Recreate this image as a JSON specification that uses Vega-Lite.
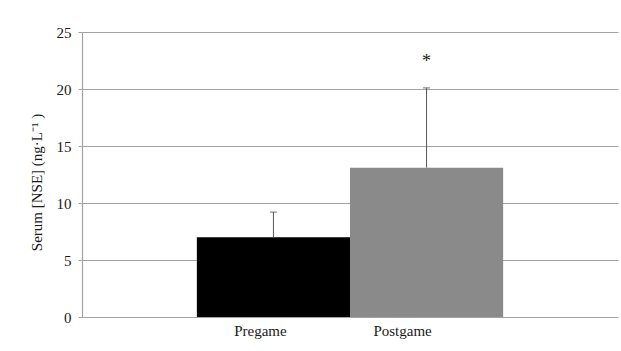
{
  "$schema": "https://vega.github.io/schema/vega-lite/v6.json",
  "autosize": "none",
  "padding": {"left": 82, "top": 32, "right": 3, "bottom": 34},
  "width": 536,
  "height": 285,
  "data": {"values": [
    {"phase": "Pregame", "mean": 7.0, "hi": 9.2, "sig": ""},
    {"phase": "Postgame", "mean": 13.1, "hi": 20.1, "sig": "*"}
  ]},
  "encoding": {
    "x": {"field": "phase", "type": "nominal", "sort": null,
      "scale": {"paddingInner": 0, "paddingOuter": 0.75},
      "axis": {"title": null, "labelAngle": 0, "ticks": false, "domain": false, "labelPadding": 6,
        "labelOffset": {"condition": {"test": "datum.value === 'Pregame'", "value": -13}, "value": -24},
        "labelFont": "Liberation Serif", "labelFontSize": 15, "labelColor": "#1a1a1a"}}
  },
  "layer": [
    {
      "mark": {"type": "bar"},
      "encoding": {
        "y": {"field": "mean", "type": "quantitative",
          "scale": {"domain": [0, 25], "nice": false},
          "axis": {"values": [0, 5, 10, 15, 20, 25], "title": "Serum [NSE] (ng·L⁻¹ )",
            "grid": true, "gridColor": "#a3a3a3", "gridWidth": 1.2,
            "domain": true, "domainColor": "#a3a3a3", "domainWidth": 1.2,
            "ticks": true, "tickColor": "#a3a3a3", "tickSize": 4, "labelPadding": 7,
            "labelFont": "Liberation Serif", "labelFontSize": 15, "labelColor": "#1a1a1a",
            "titleFont": "Liberation Serif", "titleFontSize": 15, "titleFontWeight": "normal", "titleColor": "#1a1a1a", "titlePadding": 12, "titleY": 150}},
        "color": {"field": "phase", "type": "nominal", "legend": null,
          "scale": {"domain": ["Pregame", "Postgame"], "range": ["#000000", "#8a8a8a"]}}
      }
    },
    {
      "mark": {"type": "rule", "color": "#555555", "strokeWidth": 1},
      "encoding": {
        "y": {"field": "mean", "type": "quantitative"},
        "y2": {"field": "hi"}
      }
    },
    {
      "mark": {"type": "tick", "color": "#555555", "size": 7, "thickness": 1.2, "orient": "horizontal"},
      "encoding": {"y": {"field": "hi", "type": "quantitative"}}
    },
    {
      "mark": {"type": "text", "font": "Liberation Serif", "fontSize": 18, "dy": -26, "baseline": "middle", "color": "#1a1a1a"},
      "encoding": {"y": {"field": "hi", "type": "quantitative"}, "text": {"field": "sig"}}
    }
  ],
  "config": {"view": {"stroke": null}, "background": "#ffffff"}
}
